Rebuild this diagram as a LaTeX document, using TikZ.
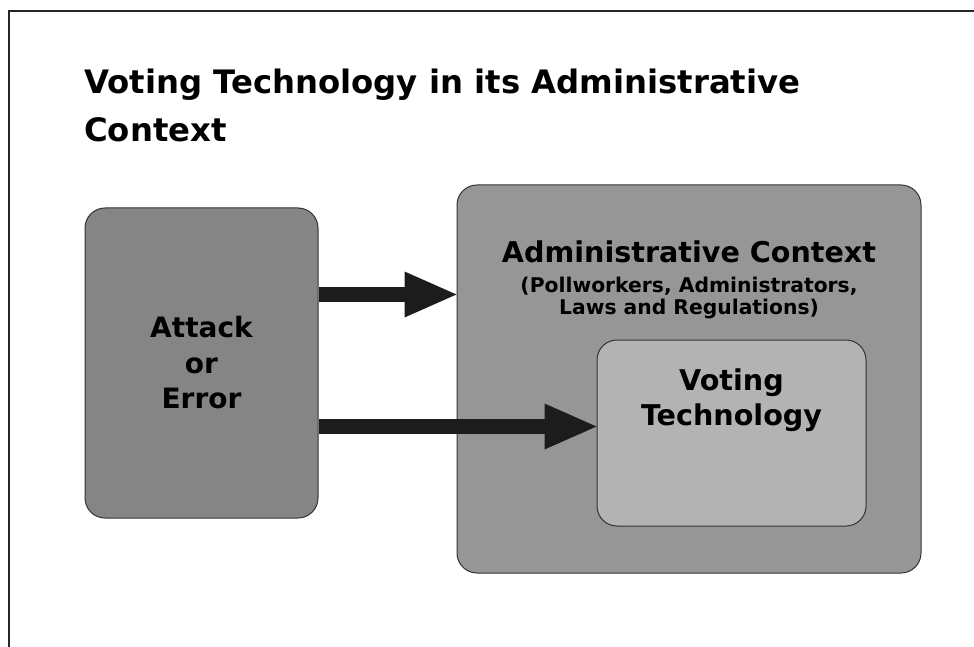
\documentclass[tikz,border=0pt]{standalone}
\usepackage{fontspec}
\setmainfont{DejaVu Sans}
\usepackage{tikz}
\usetikzlibrary{positioning}
\usetikzlibrary{arrows.meta}

\definecolor{attackgray}{HTML}{858585}
\definecolor{contextgray}{HTML}{969696}
\definecolor{techgray}{HTML}{B3B3B3}
\definecolor{arrowblack}{HTML}{1C1C1C}

\begin{document}
\begin{tikzpicture}[x=1pt,y=-1pt,
  box/.style={draw=black!80,line width=1pt,rounded corners=20pt,inner sep=0pt},
  bigarrow/.style={draw=arrowblack,line width=15pt,-{Triangle[length=52pt,width=46pt,line width=0pt]}},
  bigtext/.style={font=\bfseries\fontsize{28}{35.5}\selectfont,align=center,inner sep=0pt}]
  \useasboundingbox (0,0) rectangle (974,647);
  \clip (0,0) rectangle (974,647);
  \fill[white] (0,0) rectangle (974,647);
  \draw[line width=2pt, black!85] (9,660) -- (9,11) -- (990,11);

  \node at (84,142) [anchor=base west,align=left,inner sep=0pt,
    font=\bfseries\fontsize{32.3}{48}\selectfont] (title) {
    Voting Technology in its Administrative\\Context
  };

  \node at (201.5,363) [box,fill=attackgray,minimum width=233pt,minimum height=310pt,bigtext] (attack) {
    Attack\\or\\Error
  };

  \node at (689,379) [box,fill=contextgray,minimum width=464pt,minimum height=388pt] (context) {};
  \node at ([yshift=-78pt]context.north) [anchor=base,bigtext,font=\bfseries\fontsize{28.6}{35.5}\selectfont] (contexttitle) {Administrative Context};
  \node at ([yshift=-130pt]context.north) [anchor=base,align=center,inner sep=0pt,
    font=\bfseries\fontsize{20.3}{22}\selectfont] (contextsub) {
    (Pollworkers, Administrators,\\Laws and Regulations)
  };

  \node at (731.5,433) [box,fill=techgray,minimum width=269pt,minimum height=186pt] (votech) {};
  \node at ([yshift=-86pt]votech.north) [anchor=base,bigtext,font=\bfseries\fontsize{28.6}{35}\selectfont] (votechtext) {Voting\\Technology};

  \coordinate (upper) at (0,294.5);
  \coordinate (lower) at (0,426.5);

  \draw[bigarrow] (attack.east |- upper) -- (context.west |- upper);
  \draw[bigarrow] (attack.east |- lower) -- (votech.west |- lower);
\end{tikzpicture}
\end{document}
